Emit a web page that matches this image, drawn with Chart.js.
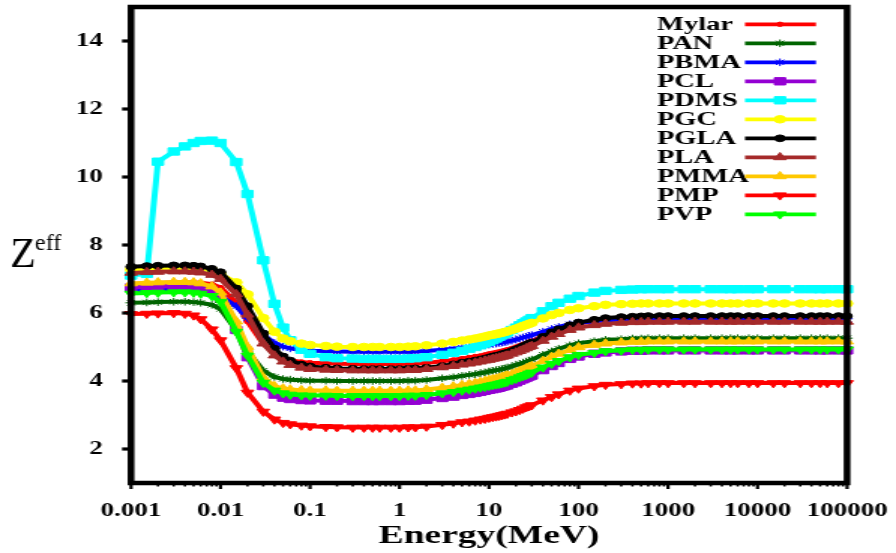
<!DOCTYPE html>
<html>
  <head>
    <style>
      html, body { margin: 0; padding: 0; background: #fff; overflow: hidden; }
      #wrap { width: 597px; height: 553px; transform: scaleX(1.5008); transform-origin: 0 0; }
    </style>
  </head>
  <body>
    <div id="wrap"><canvas id="zeff" width="597" height="553" style="width:597px;height:553px;"></canvas></div>

    <script src="https://cdn.jsdelivr.net/npm/chart.js"></script>
    <script>
      // photon energies (MeV)
      const energy = [0.001,0.0015,0.002,0.003,0.004,0.005,0.006,0.008,0.01,0.015,0.02,0.03,0.04,0.05,0.06,0.08,0.1,0.15,0.2,0.3,0.4,0.5,0.6,0.8,
        1,1.25,1.5,2,3,4,5,6,7,8,9,10,11,12,13,14,15,16,18,20,22,24,26,28,30,40,50,60,80,100,150,200,300,400,500,600,800,
        1000,1500,2000,3000,4000,5000,6000,8000,10000,15000,20000,30000,40000,50000,60000,80000,100000];

      const xTicks = [0.001, 0.01, 0.1, 1, 10, 100, 1000, 10000, 100000];
      const xTickLabels = ['0.001', '0.01', '0.1', '1', '10', '100', '1000', '10000', '100000'];
      const yTicks = [2, 4, 6, 8, 10, 12, 14];

      const mylar = [6.85,6.87,6.88,6.9,6.9,6.9,6.89,6.85,6.75,6.3,5.75,5.1,4.8,4.67,4.61,4.56,4.54,4.52,4.51,4.5,4.5,4.5,4.5,4.5,
        4.5,4.51,4.51,4.53,4.58,4.62,4.66,4.69,4.72,4.74,4.77,4.8,4.82,4.84,4.86,4.88,4.9,4.92,4.96,5.0,5.04,5.08,5.11,5.15,5.18,
        5.32,5.43,5.51,5.62,5.69,5.76,5.8,5.82,5.84,5.84,
        5.85,5.85,5.85,5.85,5.85,5.85,5.85,5.85,5.85,5.85,5.85,5.85,5.85,5.85,5.85,5.85,5.85,5.85,5.85];
      const pan = [6.3,6.31,6.32,6.33,6.33,6.32,6.3,6.24,6.12,5.5,4.88,4.3,4.12,4.06,4.04,4.02,4.01,4.01,4.0,4.0,4.0,4.0,4.0,4.0,
        4.0,4.01,4.01,4.03,4.08,4.11,4.15,4.18,4.2,4.23,4.25,4.28,4.3,4.32,4.33,4.35,4.37,4.39,4.43,4.47,4.5,4.54,4.57,4.6,4.63,
        4.77,4.87,4.95,5.05,5.11,5.17,5.21,5.23,5.25,5.25,
        5.26,5.26,5.26,5.26,5.26,5.26,5.26,5.26,5.26,5.26,5.26,5.26,5.26,5.26,5.26,5.26,5.26,5.26,5.26];
      const pbma = [6.65,6.67,6.68,6.69,6.69,6.68,6.66,6.6,6.5,6.2,5.85,5.35,5.12,5.01,4.96,4.91,4.89,4.88,4.87,4.86,4.86,4.86,4.86,4.86,
        4.86,4.86,4.87,4.88,4.92,4.95,4.98,5.0,5.02,5.03,5.05,5.07,5.09,5.1,5.12,5.13,5.15,5.16,5.19,5.22,5.25,5.28,5.3,5.33,5.35,
        5.45,5.53,5.59,5.67,5.71,5.76,5.79,5.81,5.82,5.82,
        5.83,5.83,5.83,5.83,5.83,5.83,5.83,5.83,5.83,5.83,5.83,5.83,5.83,5.83,5.83,5.83,5.83,5.83,5.83];
      const pcl = [6.75,6.77,6.78,6.79,6.79,6.78,6.75,6.66,6.45,5.5,4.7,3.85,3.6,3.51,3.47,3.44,3.43,3.42,3.42,3.41,3.41,3.41,3.41,3.41,
        3.41,3.42,3.42,3.45,3.5,3.54,3.59,3.62,3.65,3.68,3.71,3.74,3.76,3.78,3.8,3.83,3.85,3.87,3.92,3.96,4.01,4.05,4.09,4.13,4.16,
        4.32,4.44,4.53,4.65,4.72,4.8,4.84,4.87,4.89,4.89,
        4.9,4.9,4.9,4.9,4.9,4.9,4.9,4.9,4.9,4.9,4.9,4.9,4.9,4.9,4.9,4.9,4.9,4.9,4.9];
      const pdms = [7.1,7.15,10.45,10.75,10.9,11.0,11.06,11.07,11.0,10.44,9.5,7.55,6.27,5.57,5.2,4.92,4.8,4.7,4.67,4.66,4.65,4.65,4.65,4.65,
        4.65,4.66,4.67,4.7,4.77,4.83,4.89,4.95,5.0,5.05,5.1,5.15,5.2,5.25,5.3,5.35,5.39,5.43,5.5,5.57,5.64,5.7,5.75,5.8,5.85,
        6.05,6.2,6.3,6.42,6.5,6.6,6.65,6.68,6.69,6.7,
        6.7,6.7,6.7,6.7,6.7,6.7,6.7,6.7,6.7,6.7,6.7,6.7,6.7,6.7,6.7,6.7,6.7,6.7,6.7];
      const pgc = [7.28,7.3,7.32,7.33,7.33,7.33,7.32,7.26,7.14,6.9,6.55,5.85,5.45,5.25,5.17,5.1,5.06,5.03,5.01,5.0,5.0,5.0,5.0,5.0,
        5.0,5.01,5.02,5.05,5.1,5.15,5.19,5.22,5.25,5.28,5.31,5.34,5.36,5.38,5.4,5.42,5.44,5.46,5.5,5.54,5.58,5.62,5.65,5.68,5.71,
        5.84,5.94,6.0,6.09,6.14,6.2,6.24,6.26,6.27,6.28,
        6.28,6.28,6.28,6.28,6.28,6.28,6.28,6.28,6.28,6.28,6.28,6.28,6.28,6.28,6.28,6.28,6.28,6.28,6.28];
      const pgla = [7.36,7.38,7.39,7.4,7.4,7.39,7.37,7.3,7.2,6.72,6.2,5.4,4.95,4.72,4.6,4.48,4.43,4.39,4.37,4.36,4.35,4.35,4.35,4.35,
        4.35,4.36,4.37,4.39,4.44,4.49,4.54,4.57,4.6,4.63,4.66,4.69,4.72,4.74,4.76,4.79,4.81,4.83,4.88,4.93,4.97,5.02,5.06,5.1,5.13,
        5.3,5.43,5.52,5.64,5.72,5.8,5.85,5.88,5.89,5.9,
        5.91,5.91,5.91,5.91,5.91,5.91,5.91,5.91,5.91,5.91,5.91,5.91,5.91,5.91,5.91,5.91,5.91,5.91,5.91];
      const pla = [7.18,7.2,7.21,7.22,7.22,7.21,7.19,7.12,7.0,6.55,5.95,5.1,4.75,4.57,4.47,4.39,4.35,4.33,4.32,4.31,4.31,4.31,4.31,4.31,
        4.31,4.32,4.32,4.35,4.4,4.44,4.48,4.51,4.54,4.57,4.6,4.62,4.65,4.67,4.69,4.71,4.73,4.75,4.8,4.84,4.88,4.92,4.96,5.0,5.03,
        5.18,5.3,5.38,5.5,5.57,5.64,5.68,5.71,5.73,5.73,
        5.74,5.74,5.74,5.74,5.74,5.74,5.74,5.74,5.74,5.74,5.74,5.74,5.74,5.74,5.74,5.74,5.74,5.74,5.74];
      const pmma = [6.87,6.89,6.9,6.91,6.91,6.9,6.87,6.78,6.6,5.75,5.0,4.1,3.85,3.78,3.75,3.73,3.72,3.72,3.71,3.71,3.71,3.71,3.71,3.71,
        3.71,3.72,3.72,3.75,3.8,3.84,3.88,3.91,3.94,3.97,4.0,4.03,4.05,4.07,4.09,4.12,4.14,4.16,4.2,4.25,4.29,4.33,4.37,4.41,4.44,
        4.59,4.71,4.8,4.91,4.99,5.06,5.1,5.13,5.15,5.15,
        5.16,5.16,5.16,5.16,5.16,5.16,5.16,5.16,5.16,5.16,5.16,5.16,5.16,5.16,5.16,5.16,5.16,5.16,5.16];
      const pmp = [5.97,5.98,5.99,6.0,5.98,5.93,5.82,5.52,5.2,4.38,3.66,3.1,2.87,2.77,2.73,2.69,2.67,2.65,2.64,2.63,2.63,2.63,2.63,2.63,
        2.63,2.64,2.64,2.66,2.71,2.75,2.79,2.81,2.84,2.87,2.89,2.92,2.94,2.96,2.98,3.0,3.02,3.04,3.08,3.11,3.15,3.19,3.23,3.26,3.29,
        3.43,3.53,3.61,3.72,3.78,3.85,3.89,3.91,3.93,3.93,
        3.94,3.94,3.94,3.94,3.94,3.94,3.94,3.94,3.94,3.94,3.94,3.94,3.94,3.94,3.94,3.94,3.94,3.94,3.94];
      const pvp = [6.57,6.59,6.6,6.61,6.61,6.6,6.57,6.5,6.33,5.45,4.75,3.95,3.72,3.64,3.6,3.58,3.57,3.57,3.56,3.56,3.56,3.56,3.56,3.56,
        3.56,3.57,3.57,3.59,3.64,3.68,3.72,3.75,3.78,3.81,3.83,3.86,3.88,3.9,3.92,3.94,3.96,3.98,4.03,4.07,4.11,4.15,4.18,4.22,4.25,
        4.4,4.51,4.59,4.7,4.77,4.83,4.88,4.9,4.92,4.92,
        4.93,4.93,4.93,4.93,4.93,4.93,4.93,4.93,4.93,4.93,4.93,4.93,4.93,4.93,4.93,4.93,4.93,4.93,4.93];

      const series = [
        { label: 'Mylar', values: mylar, color: '#ff0000', style: 'circle', r: 2.2 },
        { label: 'PAN', values: pan, color: '#006400', style: 'star', r: 3.8 },
        { label: 'PBMA', values: pbma, color: '#0000ff', style: 'star', r: 3.8 },
        { label: 'PCL', values: pcl, color: '#9400d3', style: 'rect', r: 5.2 },
        { label: 'PDMS', values: pdms, color: '#00ffff', style: 'rect', r: 5.2 },
        { label: 'PGC', values: pgc, color: '#ffff00', style: 'circle', r: 3.8 },
        { label: 'PGLA', values: pgla, color: '#000000', style: 'circle', r: 3.4 },
        { label: 'PLA', values: pla, color: '#a52a2a', style: 'triangle', r: 4.8 },
        { label: 'PMMA', values: pmma, color: '#ffc800', style: 'triangle', r: 4.8 },
        { label: 'PMP', values: pmp, color: '#ff0000', style: 'triangle', r: 4.8, rot: 180 },
        { label: 'PVP', values: pvp, color: '#00ff00', style: 'triangle', r: 4.8, rot: 180 }
      ];

      const SX = 1.5008; // page is stretched horizontally
      const serif = "'Liberation Serif', 'Times New Roman', serif";

      const noPad = s => { s.paddingLeft = 0; s.paddingRight = 0; s.paddingTop = 0; s.paddingBottom = 0; };

      const framePlugin = {
        id: 'frame',
        afterDatasetsDraw(chart) {
          const { ctx, chartArea: a, scales } = chart;
          ctx.save();
          ctx.strokeStyle = '#000';
          // y ticks, outward
          ctx.lineWidth = 3.2;
          yTicks.forEach(v => {
            const y = scales.y.getPixelForValue(v);
            ctx.beginPath(); ctx.moveTo(a.left - 6, y); ctx.lineTo(a.left, y); ctx.stroke();
          });
          // x ticks
          xTicks.forEach((v, i) => {
            const x = scales.x.getPixelForValue(v);
            ctx.lineWidth = 2.2;
            ctx.beginPath(); ctx.moveTo(x, a.bottom); ctx.lineTo(x, a.bottom + 6); ctx.stroke();
            if (i < xTicks.length - 1) {
              ctx.lineWidth = 1.6;
              for (let m = 2; m <= 9; m++) {
                const xm = scales.x.getPixelForValue(v * m);
                ctx.beginPath(); ctx.moveTo(xm, a.bottom); ctx.lineTo(xm, a.bottom + 3.5); ctx.stroke();
              }
            }
          });
          ctx.lineWidth = 4.5;
          ctx.strokeRect(a.left, a.top, a.right - a.left, a.bottom - a.top);
          ctx.restore();
        },
        afterDraw(chart) {
          const { ctx } = chart;
          ctx.save();
          // y-axis title: Z with eff, drawn unstretched
          ctx.scale(1 / SX, 1);
          ctx.fillStyle = '#000';
          ctx.textBaseline = 'alphabetic';
          ctx.font = '42px ' + serif;
          ctx.fillText('Z', 10, 267);
          ctx.font = '24px ' + serif;
          ctx.fillText('eff', 35, 250);
          ctx.restore();

          // legend
          ctx.save();
          const tx = 437.7, x0 = 496.4, x1 = 543.7, xm = 519.7;
          series.forEach((s, i) => {
            const y = 24.3 + 19 * i;
            ctx.fillStyle = '#000';
            ctx.font = 'bold 19px ' + serif;
            ctx.textBaseline = 'middle';
            ctx.textAlign = 'left';
            ctx.fillText(s.label, tx, y + 1);
            ctx.strokeStyle = s.color;
            ctx.lineWidth = 3.8;
            ctx.beginPath(); ctx.moveTo(x0, y); ctx.lineTo(x1, y); ctx.stroke();
            ctx.fillStyle = s.color;
            ctx.lineWidth = 1;
            if (Chart.helpers && Chart.helpers.drawPoint) {
              Chart.helpers.drawPoint(ctx, { pointStyle: s.style, rotation: s.rot || 0, radius: s.r, borderWidth: 1 }, xm, y);
            }
          });
          ctx.restore();
        }
      };

      const ctx = document.getElementById('zeff').getContext('2d');
      new Chart(ctx, {
        type: 'line',
        data: {
          datasets: series.map((s, i) => ({
            label: s.label,
            data: energy.map((e, j) => ({ x: e, y: s.values[j] })),
            borderColor: s.color,
            backgroundColor: s.color,
            borderWidth: 4,
            pointStyle: s.style,
            pointRadius: s.r,
            pointRotation: s.rot || 0,
            pointBorderWidth: 1,
            pointBorderColor: s.color,
            pointBackgroundColor: s.color,
            tension: 0,
            fill: false,
            clip: false,
            order: 20 - i
          }))
        },
        options: {
          responsive: false,
          maintainAspectRatio: false,
          animation: false,
          layout: { padding: { left: 0, right: 32.6, top: 7, bottom: 0 } },
          plugins: { legend: { display: false }, tooltip: { enabled: false } },
          scales: {
            x: {
              type: 'logarithmic',
              min: 0.001,
              max: 100000,
              afterBuildTicks: s => { s.ticks = xTicks.map(v => ({ value: v })); },
              afterFit: s => { s.height = 70; noPad(s); },
              grid: { display: false, drawTicks: false },
              border: { display: false },
              ticks: {
                autoSkip: false,
                maxRotation: 0,
                padding: 18,
                color: '#000',
                font: { family: serif, size: 18, weight: 'bold' },
                callback: (v, i) => xTickLabels[i]
              },
              title: {
                display: true,
                text: 'Energy(MeV)',
                color: '#000',
                font: { family: serif, size: 25, weight: 'bold' },
                padding: { top: 0, bottom: 1 }
              }
            },
            y: {
              type: 'linear',
              min: 1,
              max: 15,
              afterBuildTicks: s => { s.ticks = yTicks.map(v => ({ value: v })); },
              afterFit: s => { s.width = 87.3; noPad(s); },
              grid: { display: false, drawTicks: false },
              border: { display: false },
              ticks: {
                padding: 18.7,
                color: '#000',
                font: { family: serif, size: 18, weight: 'bold' }
              }
            }
          }
        },
        plugins: [framePlugin]
      });
    </script>
  </body>
</html>
